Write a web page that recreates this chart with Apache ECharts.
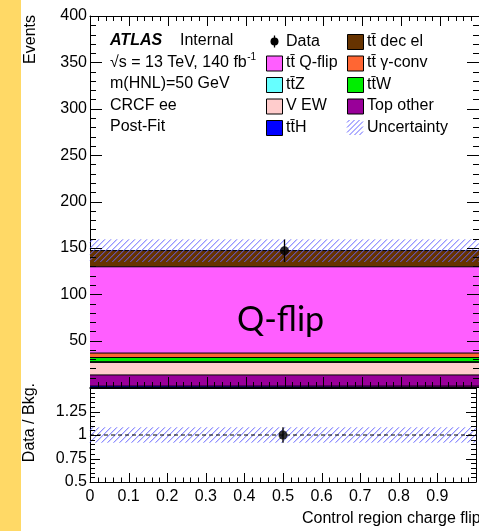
<!DOCTYPE html>
<html>
<head>
<meta charset="utf-8">
<script src="https://cdn.jsdelivr.net/npm/echarts@6/dist/echarts.min.js"></script>
<style>
html, body { margin: 0; padding: 0; background: #fff; }
#chart { width: 479px; height: 531px; }
</style>
</head>
<body>
<div id="chart"></div>
<script>
// Background processes, listed from the bottom of the stack to the top
const procNames  = ['tt\u0304H', 'Top other', 'V EW', 'tt\u0304Z', 'tt\u0304W', 'tt\u0304 \u03b3-conv', 'tt\u0304 Q-flip', 'tt\u0304 dec el'];
const procYields = [1.0, 12.0, 13.5, 0.8, 4.5, 4.8, 93.0, 17.5];
const procColors = ['#0000ff', '#990099', '#ffcccc', '#66ffff', '#00ee00', '#ff6633', '#ff5eff', '#663300'];

// Single bin of the control region
const binEdges = [0, 1];

// Observed data
const dataX      = [0.5];
const dataCounts = [147];
const dataErr    = [12.1];

// Post-fit background uncertainty band
const uncLow  = [134.8];
const uncHigh = [159.2];

// Ratio panel
const ratioVals    = [1.0];
const ratioErr     = [0.082];
const ratioUncLow  = [0.918];
const ratioUncHigh = [1.082];

// Tick labels
const mainYTicks  = ['50', '100', '150', '200', '250', '300', '350', '400'];
const ratioYTicks = ['0.5', '0.75', '1', '1.25'];
const xTicks      = ['0', '0.1', '0.2', '0.3', '0.4', '0.5', '0.6', '0.7', '0.8', '0.9'];

const FONT = 'Liberation Sans, Arial, Helvetica, sans-serif';
const HATCH = '#6464ff';

// Diagonal "/" hatch lines clipped to a pixel rectangle
function hatchLines(L, T, R, B, step, z) {
  const H = B - T;
  const out = [];
  for (let x0 = L - H + step / 2; x0 < R; x0 += step) {
    let xs = x0, ys = B, xe = x0 + H, ye = T;
    if (xs < L) { ys = B - (L - xs); xs = L; }
    if (xe > R) { ye = T + (xe - R); xe = R; }
    const el = { type: 'line', shape: { x1: xs, y1: ys, x2: xe, y2: ye },
                 style: { stroke: HATCH, lineWidth: 1 } };
    if (z !== undefined) el.z = z;
    out.push(el);
  }
  return out;
}

// Hatched band between two values across the bin, placed through the axis scales
function hatchBand(xIdx, yIdx, lo, hi) {
  return {
    type: 'custom', xAxisIndex: xIdx, yAxisIndex: yIdx, silent: true, z: 4,
    data: [[binEdges[0], lo, binEdges[binEdges.length - 1], hi]],
    renderItem: function (params, api) {
      const p0 = api.coord([api.value(0), api.value(1)]);
      const p1 = api.coord([api.value(2), api.value(3)]);
      return { type: 'group', children: hatchLines(p0[0], p1[1], p1[0], p0[1], 6) };
    }
  };
}

function fmtValue(list) {
  return function (v) {
    const s = String(+v.toFixed(2));
    return list.indexOf(s) >= 0 ? s : '';
  };
}

function xAxis(gridIndex, position, showLabels) {
  return {
    type: 'value', gridIndex: gridIndex, position: position,
    min: binEdges[0], max: binEdges[binEdges.length - 1], interval: 0.1,
    axisLine: { show: true, onZero: false, lineStyle: { color: '#000', width: 1 } },
    axisTick: { show: false },
    minorTick: { show: false },
    splitLine: { show: false },
    axisLabel: { show: showLabels, color: '#000', fontFamily: FONT, fontSize: 16, margin: 7,
                 formatter: fmtValue(xTicks) }
  };
}

function yAxis(gridIndex, position, min, max, interval, labels) {
  return {
    type: 'value', gridIndex: gridIndex, position: position,
    min: min, max: max, interval: interval,
    axisLine: { show: true, onZero: false, lineStyle: { color: '#000', width: 1 } },
    axisTick: { show: false },
    minorTick: { show: false },
    splitLine: { show: false },
    axisLabel: { show: !!labels, color: '#000', fontFamily: FONT, fontSize: 16, margin: 3,
                 formatter: labels ? fmtValue(labels) : '' }
  };
}

// Stacked background: cumulative tops, drawn top layer first so lower layers cover it
const series = [];
let cum = 0;
const tops = procYields.map(function (v) { cum += v; return cum; });
for (let i = procYields.length - 1; i >= 0; i--) {
  series.push({
    name: procNames[i], type: 'line', xAxisIndex: 0, yAxisIndex: 0,
    data: binEdges.map(function (x) { return [x, tops[i]]; }),
    showSymbol: false, silent: true, z: 3,
    lineStyle: { color: '#000', width: 1 },
    areaStyle: { color: procColors[i], opacity: 1, origin: 0 }
  });
}

// Uncertainty band on the stack
series.push(hatchBand(0, 0, uncLow[0], uncHigh[0]));

// Data error bar and marker
dataX.forEach(function (x, i) {
  series.push({
    type: 'line', xAxisIndex: 0, yAxisIndex: 0,
    data: [[x, dataCounts[i] - dataErr[i]], [x, dataCounts[i] + dataErr[i]]],
    showSymbol: false, silent: true, z: 5, lineStyle: { color: '#000', width: 1.3 }
  });
});
series.push({
  name: 'Data', type: 'scatter', xAxisIndex: 0, yAxisIndex: 0,
  data: dataX.map(function (x, i) { return [x, dataCounts[i]]; }),
  symbol: 'circle', symbolSize: 9, itemStyle: { color: '#000' }, z: 6
});

// Ratio panel: band, reference line, data
series.push(hatchBand(2, 2, ratioUncLow[0], ratioUncHigh[0]));
series.push({
  type: 'line', xAxisIndex: 2, yAxisIndex: 2,
  data: binEdges.map(function (x) { return [x, 1]; }),
  showSymbol: false, silent: true, z: 4,
  lineStyle: { color: '#000', width: 1, type: [4, 3] }
});
dataX.forEach(function (x, i) {
  series.push({
    type: 'line', xAxisIndex: 2, yAxisIndex: 2,
    data: [[x, ratioVals[i] - ratioErr[i]], [x, ratioVals[i] + ratioErr[i]]],
    showSymbol: false, silent: true, z: 5, lineStyle: { color: '#000', width: 1.3 }
  });
});
series.push({
  type: 'scatter', xAxisIndex: 2, yAxisIndex: 2,
  data: dataX.map(function (x, i) { return [x, ratioVals[i]]; }),
  symbol: 'circle', symbolSize: 9, itemStyle: { color: '#000' }, z: 6
});

// Legend entries
const legendMid   = ['Data', 'tt\u0304 Q-flip', 'tt\u0304Z', 'V EW', 'tt\u0304H'];
const legendRight = ['tt\u0304 dec el', 'tt\u0304 \u03b3-conv', 'tt\u0304W', 'Top other', 'Uncertainty'];
const rowY0 = 41, rowDY = 21.5;
const TXT = '16px ' + FONT;

const measure = document.createElement('canvas').getContext('2d');
function textWidth(s, font) { measure.font = font; return measure.measureText(s).width; }

const graphic = [];
// side stripe
graphic.push({ type: 'rect', shape: { x: 0, y: 0, width: 21, height: 531 }, style: { fill: '#ffd966' }, z: 100 });

function txt(x, y, s, font) {
  graphic.push({ type: 'text', z: 100,
                 style: { text: s, x: x, y: y, fill: '#000', font: font || TXT,
                          textVerticalAlign: 'middle', textAlign: 'left' } });
}

function legendBox(x, y, name) {
  if (name === 'Data') {
    graphic.push({ type: 'line', z: 100, shape: { x1: x + 8.5, y1: y - 6, x2: x + 8.5, y2: y + 6 },
                   style: { stroke: '#000', lineWidth: 1.3 } });
    graphic.push({ type: 'circle', z: 100, shape: { cx: x + 8.5, cy: y, r: 4 }, style: { fill: '#000' } });
  } else if (name === 'Uncertainty') {
    hatchLines(x, y - 7.5, x + 16, y + 7.5, 5, 100).forEach(function (el) { graphic.push(el); });
  } else {
    const k = procNames.indexOf(name);
    graphic.push({ type: 'rect', z: 100, shape: { x: x + 0.5, y: y - 7, width: 16, height: 15 },
                   style: { fill: procColors[k], stroke: '#000', lineWidth: 1 } });
  }
  txt(x + 20, y, name);
}
legendMid.forEach(function (n, i) { legendBox(266, rowY0 + i * rowDY + 0.5, n); });
legendRight.forEach(function (n, i) { legendBox(347, rowY0 + i * rowDY + 0.5, n); });

// Plot labels
txt(110, rowY0, 'ATLAS', 'italic bold 16px ' + FONT);
txt(180, rowY0, 'Internal');
const lumiText = '\u221as = 13 TeV, 140 fb';
txt(110, rowY0 + rowDY, lumiText);
txt(110 + textWidth(lumiText, TXT) + 0.5, rowY0 + rowDY - 5, '-1', '10px ' + FONT);
txt(110, rowY0 + 2 * rowDY, 'm(HNL)=50 GeV');
txt(110, rowY0 + 3 * rowDY, 'CRCF ee');
txt(110, rowY0 + 4 * rowDY, 'Post-Fit');

// Region annotation
txt(237, 320, 'Q-flip', '34px Lato, "Open Sans", sans-serif');

// Axis titles
graphic.push({ type: 'text', x: 31, y: 15, rotation: Math.PI / 2, z: 100,
               style: { text: 'Events', font: TXT, fill: '#000', textAlign: 'right', textVerticalAlign: 'middle' } });
graphic.push({ type: 'text', x: 30, y: 383, rotation: Math.PI / 2, z: 100,
               style: { text: 'Data / Bkg.', font: TXT, fill: '#000', textAlign: 'right', textVerticalAlign: 'middle' } });
txt(302, 519, 'Control region charge flip');

const chart = echarts.init(document.getElementById('chart'));
chart.setOption({
  animation: false,
  grid: [
    { left: 90, top: 16, width: 392, height: 371 },
    { left: 90, top: 388, width: 392, height: 94 }
  ],
  xAxis: [
    xAxis(0, 'bottom', false),
    xAxis(0, 'top', false),
    xAxis(1, 'bottom', true),
    xAxis(1, 'top', false)
  ],
  yAxis: [
    yAxis(0, 'left', 0, 400, 50, mainYTicks),
    yAxis(0, 'right', 0, 400, 50, null),
    yAxis(1, 'left', 0.5, 1.5, 0.25, ratioYTicks),
    yAxis(1, 'right', 0.5, 1.5, 0.25, null)
  ],
  series: series,
  graphic: graphic
});

// Inward-pointing tick marks, positioned through each panel's axis scales
function tickMarks(xIdx, yIdx, t) {
  const out = [];
  function toPx(x, y) { return chart.convertToPixel({ xAxisIndex: xIdx, yAxisIndex: yIdx }, [x, y]); }
  function seg(x1, y1, x2, y2) {
    out.push({ type: 'line', z: 101, shape: { x1: x1, y1: y1, x2: x2, y2: y2 },
               style: { stroke: '#000', lineWidth: 1 } });
  }
  const bl = toPx(t.xmin, t.ymin), tr = toPx(t.xmax, t.ymax);
  const L = bl[0], B = bl[1], R = tr[0], T = tr[1];
  const nx = Math.round((t.xmax - t.xmin) / t.xstep);
  for (let k = 1; k < nx; k++) {
    const px = Math.round(toPx(t.xmin + k * t.xstep, t.ymin)[0]) + 0.5;
    const len = (k % t.xper === 0) ? t.xlen : t.xlen / 2;
    if (t.bottom) seg(px, B, px, B - len);
    if (t.top) seg(px, T, px, T + len);
  }
  const ny = Math.round((t.ymax - t.ymin) / t.ystep);
  for (let k = 1; k < ny; k++) {
    const py = Math.round(toPx(t.xmin, t.ymin + k * t.ystep)[1]) + 0.5;
    const len = (k % t.yper === 0) ? t.ylen : t.ylen / 2;
    seg(L, py, L + len, py);
    seg(R, py, R - len, py);
  }
  return out;
}
const ticks = tickMarks(0, 0, { xmin: 0, xmax: 1, ymin: 0, ymax: 400, xstep: 0.02, xper: 5, xlen: 10,
                                ystep: 10, yper: 5, ylen: 12, top: true, bottom: true })
  .concat(tickMarks(2, 2, { xmin: 0, xmax: 1, ymin: 0.5, ymax: 1.5, xstep: 0.02, xper: 5, xlen: 9,
                            ystep: 0.05, yper: 5, ylen: 10, top: false, bottom: true }));
chart.setOption({ graphic: graphic.concat(ticks) });
</script>
</body>
</html>
